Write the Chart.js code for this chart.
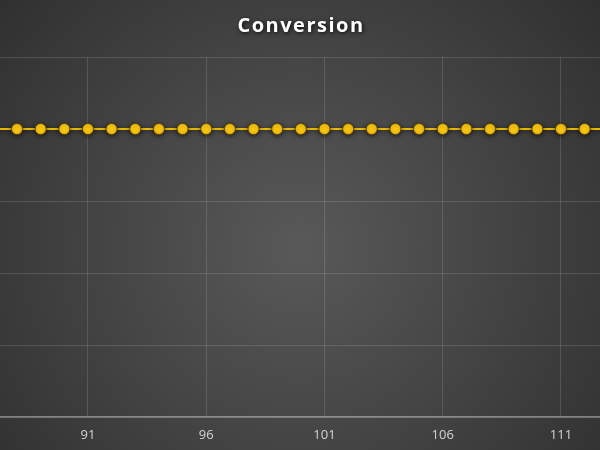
<!DOCTYPE html>
<html>
<head>
<meta charset="utf-8">
<script src="https://cdn.jsdelivr.net/npm/chart.js@4.4.1/dist/chart.umd.min.js"></script>
<style>
  html, body { margin: 0; padding: 0; background: #333; }
  #wrap { width: 600px; height: 450px; position: relative; }
</style>
</head>
<body>
<div id="wrap"><canvas id="chart"></canvas></div>
<script>
// x positions (days) and the conversion value at each one
const days = [87, 88, 89, 90, 91, 92, 93, 94, 95, 96, 97, 98, 99, 100,
              101, 102, 103, 104, 105, 106, 107, 108, 109, 110, 111, 112, 113];
const conversion = [0.8, 0.8, 0.8, 0.8, 0.8, 0.8, 0.8, 0.8, 0.8, 0.8, 0.8, 0.8, 0.8, 0.8,
                    0.8, 0.8, 0.8, 0.8, 0.8, 0.8, 0.8, 0.8, 0.8, 0.8, 0.8, 0.8, 0.8];
const xTicks = [91, 96, 101, 106, 111];
const yTicks = [0, 0.2, 0.4, 0.6, 0.8, 1];

const X_MIN = 87.28, X_MAX = 112.65;

// dark radial background
const background = {
  id: 'background',
  beforeDraw(chart) {
    const { ctx, width, height } = chart;
    const g = ctx.createRadialGradient(width / 2, height * 0.55, 10, width / 2, height * 0.55, width * 0.65);
    g.addColorStop(0, '#585858');
    g.addColorStop(1, '#303030');
    ctx.save();
    ctx.fillStyle = g;
    ctx.fillRect(0, 0, width, height);
    ctx.restore();
  }
};

// shadow under the line and points
const markShadow = {
  id: 'markShadow',
  beforeDatasetsDraw(chart) {
    const ctx = chart.ctx;
    ctx.save();
    ctx.shadowColor = 'rgba(0,0,0,0.6)';
    ctx.shadowBlur = 4;
    ctx.shadowOffsetY = 1;
  },
  afterDatasetsDraw(chart) {
    chart.ctx.restore();
  }
};

// title drawn by hand so it can have spacing and a shadow
const titleText = {
  id: 'titleText',
  afterDraw(chart) {
    const ctx = chart.ctx;
    ctx.save();
    ctx.font = 'bold 20px "Open Sans"';
    if ('letterSpacing' in ctx) ctx.letterSpacing = '1.5px';
    ctx.fillStyle = '#ffffff';
    ctx.textAlign = 'center';
    ctx.textBaseline = 'middle';
    ctx.shadowColor = 'rgba(0,0,0,0.85)';
    ctx.shadowBlur = 4;
    ctx.shadowOffsetX = 1;
    ctx.shadowOffsetY = 1;
    ctx.fillText('Conversion', chart.width / 2 + 1, 26);
    ctx.restore();
  }
};

new Chart(document.getElementById('chart'), {
  type: 'line',
  data: {
    datasets: [{
      label: 'Conversion',
      data: days.map((d, i) => ({ x: d, y: conversion[i] })),
      borderColor: '#e8b800',
      borderWidth: 2,
      backgroundColor: '#ffca10',
      pointBackgroundColor: '#ffca10',
      pointBorderColor: 'rgba(90,65,0,0.85)',
      pointBorderWidth: 1,
      pointRadius: c => (c.raw && (c.raw.x < X_MIN || c.raw.x > X_MAX)) ? 0 : 5.5,
      tension: 0
    }]
  },
  options: {
    responsive: true,
    maintainAspectRatio: false,
    animation: false,
    layout: { padding: { top: 57, bottom: 0, left: 0, right: 0 } },
    plugins: {
      legend: { display: false },
      title: { display: false },
      tooltip: { enabled: false }
    },
    scales: {
      x: {
        type: 'linear',
        min: X_MIN,
        max: X_MAX,
        afterBuildTicks: axis => { axis.ticks = xTicks.map(v => ({ value: v })); },
        afterFit: axis => { axis.height = 33; },
        grid: { color: 'rgba(255,255,255,0.13)', drawTicks: false },
        border: { color: 'rgba(255,255,255,0.38)', width: 1.5 },
        ticks: {
          padding: 10,
          color: '#d4d4d4',
          font: { family: 'Open Sans', size: 13 },
          maxRotation: 0,
          autoSkip: false
        }
      },
      y: {
        min: 0,
        max: 1,
        afterBuildTicks: axis => { axis.ticks = yTicks.map(v => ({ value: v })); },
        grid: { color: 'rgba(255,255,255,0.13)', drawTicks: false },
        border: { display: false },
        ticks: { display: false }
      }
    }
  },
  plugins: [background, markShadow, titleText]
});
</script>
</body>
</html>
